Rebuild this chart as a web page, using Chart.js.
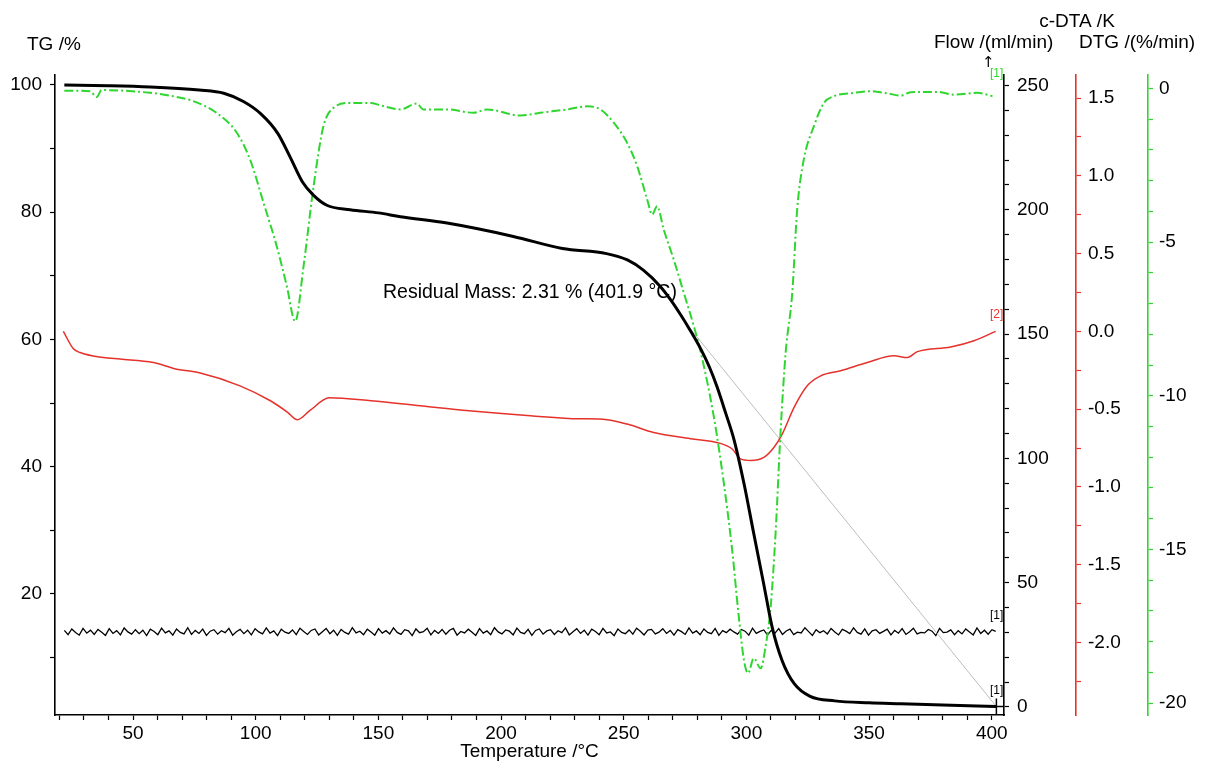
<!DOCTYPE html>
<html>
<head>
<meta charset="utf-8">
<script src="https://cdn.jsdelivr.net/npm/chart.js@4.4.0/dist/chart.umd.min.js"></script>
<style>
  html, body { margin: 0; padding: 0; background: #fff; }
  #wrap { width: 1213px; height: 764px; }
</style>
</head>
<body>
<div id="wrap"><canvas id="tga" width="1213" height="764"></canvas></div>
<script>
// ---- data ----
// TG (mass %)
const tgTemp = [22, 40, 57, 77, 87, 95, 102, 109, 114, 119, 123.5, 129, 138.5, 150, 159, 178, 205, 225, 243, 251.5, 258, 265, 269, 273, 277, 281, 285, 288, 291.5, 295, 299, 303, 307, 310.5, 314.5, 319.5, 326, 336, 350, 363, 380, 401.9];
const tgVal = [100, 99.9, 99.7, 99.2, 98.7, 97.4, 95.5, 92.4, 88.7, 84.8, 82.7, 81.1, 80.4, 79.9, 79.3, 78.3, 76.2, 74.3, 73.5, 72.5, 70.9, 68.3, 66.3, 64, 61.5, 58.8, 55.6, 52.6, 48.5, 44.2, 37.4, 29.5, 21.7, 14.8, 9.6, 5.9, 3.9, 3.2, 2.9, 2.75, 2.55, 2.31];

// DTG (%/min)
const dtgTemp = [22, 32.5, 35.2, 37.2, 57, 66.3, 74.5, 84, 92.3, 97.7, 103.2, 108.6, 112.7, 116.1, 119.5, 123.6, 127.6, 131.7, 138.5, 146.7, 151, 159, 165.7, 168.3, 178, 188.8, 194.3, 207.9, 216, 226.9, 235.1, 240.5, 246, 251.4, 255.5, 259.6, 261.6, 263.6, 266.3, 270.4, 274.5, 278.6, 281.3, 286.7, 290.8, 294.2, 296.9, 299, 300.7, 303, 305.8, 307.8, 309.9, 311.9, 313.9, 316, 318.7, 320.7, 323.4, 327.5, 331.6, 335.7, 343.8, 350.6, 357.5, 362.9, 367, 377.9, 384.6, 394.2, 400.3];
const dtgVal = [-0.07, -0.09, -0.28, -0.05, -0.14, -0.25, -0.41, -0.79, -1.44, -2.31, -3.72, -5.14, -6.44, -7.58, -5.79, -3.18, -1.23, -0.63, -0.47, -0.47, -0.55, -0.68, -0.49, -0.68, -0.68, -0.79, -0.68, -0.88, -0.79, -0.68, -0.58, -0.68, -1.12, -1.77, -2.53, -3.62, -4.1, -3.83, -4.59, -5.57, -6.65, -7.74, -8.55, -10.67, -12.84, -15.02, -17.19, -18.6, -19.03, -18.54, -18.87, -18.17, -16.86, -14.47, -11.22, -8.6, -6.65, -3.94, -2.31, -1.23, -0.47, -0.25, -0.14, -0.09, -0.16, -0.23, -0.12, -0.11, -0.2, -0.14, -0.25];

// c-DTA (K)
const dtaTemp = [21.6, 25.6, 28.4, 37.9, 44.7, 58.3, 67.8, 77, 93.6, 106, 113, 117, 122, 130, 147, 167, 187, 212, 232, 240.5, 251.4, 262.2, 277.2, 289.4, 294.2, 297.6, 301.7, 307.1, 311.2, 314.6, 319.4, 324.8, 330.3, 338.4, 349.3, 360.2, 365.6, 369.7, 383.3, 392.8, 401.6];
const dtaVal = [0.0, -0.11, -0.136, -0.168, -0.178, -0.2, -0.243, -0.266, -0.35, -0.446, -0.52, -0.568, -0.51, -0.427, -0.446, -0.478, -0.51, -0.542, -0.562, -0.564, -0.596, -0.65, -0.69, -0.72, -0.756, -0.82, -0.83, -0.81, -0.746, -0.66, -0.49, -0.35, -0.286, -0.253, -0.2, -0.157, -0.168, -0.13, -0.1, -0.06, 0.0];

// purge gas flow (ml/min), sampled evenly from flowStart to flowEnd
const flowStart = 22;
const flowEnd = 401.6;
const flowVal = [
  30.8, 29.1, 31.4, 30.0, 28.9, 31.6, 29.7, 30.9, 29.2, 31.2,
  30.1, 28.8, 31.5, 29.6, 30.7, 29.0, 31.8, 30.2, 29.3, 31.1,
  29.5, 30.9, 28.7, 31.3, 30.4, 29.1, 31.7, 29.8, 30.6, 28.9,
  31.4, 30.0, 29.4, 31.9, 29.2, 30.8, 29.6, 31.3, 28.8, 30.5,
  31.1, 29.3, 30.7, 29.9, 31.6, 28.9, 30.3, 31.2, 29.5, 30.9,
  29.0, 31.5, 30.2, 29.4, 31.8, 29.7, 30.6, 28.7, 31.3, 30.1,
  29.6, 31.0, 29.1, 31.7, 30.4, 29.2, 30.8, 31.4, 29.0, 30.3,
  31.6, 29.5, 30.9, 28.8, 31.2, 30.0, 29.3, 31.9, 29.8, 30.5,
  29.1, 31.3, 30.2, 28.9, 31.5, 29.7, 30.7, 29.4, 31.8, 30.0,
  29.2, 31.1, 30.6, 28.7, 31.4, 29.9, 30.3, 31.7, 29.0, 30.8,
  29.6, 31.2, 29.3, 30.9, 31.6, 28.9, 30.4, 29.8, 31.3, 30.1,
  28.8, 31.5, 29.7, 30.6, 29.1, 31.9, 30.2, 29.4, 31.0, 30.5,
  29.0, 31.7, 30.0, 29.5, 31.2, 28.8, 30.8, 31.4, 29.3, 30.6,
  31.1, 29.2, 30.7, 29.9, 31.8, 29.0, 30.3, 31.5, 29.6, 30.9,
  28.9, 31.3, 30.4, 29.1, 31.6, 29.8, 30.2, 28.7, 31.4, 30.0,
  29.5, 31.0, 29.3, 31.7, 30.5, 29.0, 30.9, 31.2, 29.4, 30.1,
  31.5, 29.6, 30.8, 28.9, 31.1, 30.3, 29.2, 31.8, 29.7, 30.6,
  29.1, 31.4, 30.0, 29.5, 31.6, 28.8, 30.7, 29.9, 31.3, 30.2,
  29.3, 31.2, 30.5, 28.9, 31.7, 29.6, 30.4, 31.0, 29.0, 30.8,
  29.7, 31.5, 29.2, 30.6, 31.3, 29.1, 30.1, 29.8, 31.9, 30.3,
  28.8, 31.1, 29.9, 30.7, 29.4, 31.6, 30.2, 29.0, 31.2, 30.5,
  29.5, 31.8, 30.0, 29.3, 31.4, 28.9, 30.6, 31.1, 29.6, 30.4,
  31.3, 29.0, 30.8, 29.7, 31.5, 29.2, 30.3, 31.7, 29.4, 30.0,
  29.8, 31.2, 30.5, 28.7, 31.6, 29.9, 30.1, 31.0, 29.1, 30.7,
  29.4, 31.4, 30.2, 29.0, 31.8, 29.6, 30.9, 29.3, 31.1, 30.4
];

// residual mass construction line and end marker (on TG axis)
const residTemp = [276.5, 401.9];
const residVal = [62, 2.31];
const residualMass = 2.31;
const residualTemp = 401.9;

// axis ticks (minor) and labelled ticks
const xTicks = [20, 30, 40, 50, 60, 70, 80, 90, 100, 110, 120, 130, 140, 150, 160, 170, 180, 190, 200, 210, 220, 230, 240, 250, 260, 270, 280, 290, 300, 310, 320, 330, 340, 350, 360, 370, 380, 390, 400];
const xLabels = [50, 100, 150, 200, 250, 300, 350, 400];
const tgTicks = [10, 20, 30, 40, 50, 60, 70, 80, 90, 100];
const tgLabels = [20, 40, 60, 80, 100];
const flowTicks = [0, 10, 20, 30, 40, 50, 60, 70, 80, 90, 100, 110, 120, 130, 140, 150, 160, 170, 180, 190, 200, 210, 220, 230, 240, 250];
const flowLabels = [0, 50, 100, 150, 200, 250];
const dtaTicks = [1.5, 1.25, 1.0, 0.75, 0.5, 0.25, 0.0, -0.25, -0.5, -0.75, -1.0, -1.25, -1.5, -1.75, -2.0, -2.25];
const dtaLabels = [1.5, 1.0, 0.5, 0.0, -0.5, -1.0, -1.5, -2.0];
const dtgTicks = [0, -1, -2, -3, -4, -5, -6, -7, -8, -9, -10, -11, -12, -13, -14, -15, -16, -17, -18, -19, -20];
const dtgLabels = [0, -5, -10, -15, -20];

// ---- chart ----
const FONT = '"Liberation Sans", Arial, "DejaVu Sans", sans-serif';
const RED = '#e5322b';
const GREEN = '#2fd62f';

function pts(xs, ys) { return xs.map((x, i) => ({ x: x, y: ys[i] })); }
const flowTemp = flowVal.map((_, i) => flowStart + (flowEnd - flowStart) * i / (flowVal.length - 1));

function yAxis(opts) {
  return {
    type: 'linear',
    position: opts.pos,
    min: opts.min,
    max: opts.max,
    afterBuildTicks: s => { s.ticks = opts.ticks.map(v => ({ value: v })); },
    afterFit: s => { s.width = opts.width; },
    ticks: {
      autoSkip: false,
      padding: opts.pad,
      color: '#000',
      font: { family: FONT, size: 19 },
      callback: v => opts.labels.includes(v) ? opts.fmt(v) : ''
    },
    grid: { drawOnChartArea: false, drawTicks: true, tickLength: 5, color: opts.color, tickColor: opts.color, tickWidth: 1.2 },
    border: { display: true, color: opts.color, width: 1.6 }
  };
}

const labelsPlugin = {
  id: 'tgaLabels',
  afterDraw(chart) {
    const ctx = chart.ctx;
    const ca = chart.chartArea;
    ctx.save();
    ctx.fillStyle = '#000';
    ctx.textBaseline = 'middle';
    ctx.font = '19px ' + FONT;
    ctx.textAlign = 'left';
    ctx.fillText('TG /%', 27, 45);
    ctx.fillText('Flow /(ml/min)', 934, 43);
    ctx.fillText('DTG /(%/min)', 1079, 43);
    ctx.textAlign = 'center';
    ctx.fillText('c-DTA /K', 1077, 22);
    ctx.fillText('Temperature /°C', (ca.left + ca.right) / 2, 752);
    ctx.textAlign = 'left';
    ctx.font = '19.5px ' + FONT;
    ctx.fillText('Residual Mass: ' + residualMass + ' % (' + residualTemp + ' °C)', 383, 293);
    // curve tags at the right end
    ctx.font = '12px ' + FONT;
    ctx.fillStyle = GREEN;
    ctx.fillText('[1]', 990, 74);
    ctx.fillStyle = RED;
    ctx.fillText('[2]', 990, 315);
    ctx.fillStyle = '#000';
    ctx.fillText('[1]', 990, 616);
    ctx.fillText('[1]', 990, 691);
    ctx.font = '15px "DejaVu Sans", sans-serif';
    ctx.fillText('↑', 982, 63);
    ctx.restore();
  }
};

new Chart(document.getElementById('tga'), {
  type: 'line',
  data: {
    datasets: [
      {
        label: 'Flow',
        data: pts(flowTemp, flowVal),
        yAxisID: 'yFlow',
        borderColor: '#000',
        borderWidth: 1.3,
        pointRadius: 0,
        tension: 0,
        order: 5
      },
      {
        label: 'Residual line',
        data: pts(residTemp, residVal),
        yAxisID: 'yTG',
        borderColor: '#bdbdbd',
        borderWidth: 1,
        pointRadius: 0,
        order: 4
      },
      {
        label: 'c-DTA',
        data: pts(dtaTemp, dtaVal),
        yAxisID: 'yDTA',
        borderColor: RED,
        borderWidth: 1.5,
        pointRadius: 0,
        cubicInterpolationMode: 'monotone',
        order: 3
      },
      {
        label: 'DTG',
        data: pts(dtgTemp, dtgVal),
        yAxisID: 'yDTG',
        borderColor: GREEN,
        borderWidth: 2,
        borderDash: [9, 3, 2, 3],
        pointRadius: 0,
        cubicInterpolationMode: 'monotone',
        order: 2
      },
      {
        label: 'TG',
        data: pts(tgTemp, tgVal),
        yAxisID: 'yTG',
        borderColor: '#000',
        borderWidth: 3,
        pointRadius: 0,
        cubicInterpolationMode: 'monotone',
        order: 1
      },
      {
        label: 'Residual mass',
        data: [{ x: residualTemp, y: residualMass }],
        yAxisID: 'yTG',
        showLine: false,
        pointStyle: 'cross',
        pointRadius: 8,
        borderColor: '#000',
        borderWidth: 1.5,
        order: 0
      }
    ]
  },
  options: {
    responsive: false,
    animation: false,
    devicePixelRatio: 1,
    layout: { padding: { top: 75, left: 0, right: 0, bottom: 0 } },
    plugins: { legend: { display: false }, tooltip: { enabled: false } },
    scales: {
      x: {
        type: 'linear',
        min: 18.2,
        max: 405,
        afterBuildTicks: s => { s.ticks = xTicks.map(v => ({ value: v })); },
        afterFit: s => { s.height = 49; },
        ticks: {
          autoSkip: false, maxRotation: 0, padding: 2, color: '#000',
          font: { family: FONT, size: 19 },
          callback: v => xLabels.includes(v) ? String(v) : ''
        },
        grid: { drawOnChartArea: false, drawTicks: true, tickLength: 5, color: '#000', tickColor: '#000', tickWidth: 1.2 },
        border: { display: true, color: '#000', width: 1.6 }
      },
      yTG: yAxis({ pos: 'left', min: 0.98, max: 101.57, ticks: tgTicks, labels: tgLabels, width: 55, pad: 8, color: '#000', fmt: v => String(v) }),
      yFlow: yAxis({ pos: 'right', min: -3.22, max: 254.23, ticks: flowTicks, labels: flowLabels, width: 72, pad: 8, color: '#000', fmt: v => String(v) }),
      yDTA: yAxis({ pos: 'right', min: -2.466, max: 1.648, ticks: dtaTicks, labels: dtaLabels, width: 72, pad: 7, color: RED, fmt: v => v.toFixed(1) }),
      yDTG: yAxis({ pos: 'right', min: -20.39, max: 0.44, ticks: dtgTicks, labels: dtgLabels, width: 65, pad: 6, color: GREEN, fmt: v => String(v) })
    }
  },
  plugins: [labelsPlugin]
});
</script>
</body>
</html>
